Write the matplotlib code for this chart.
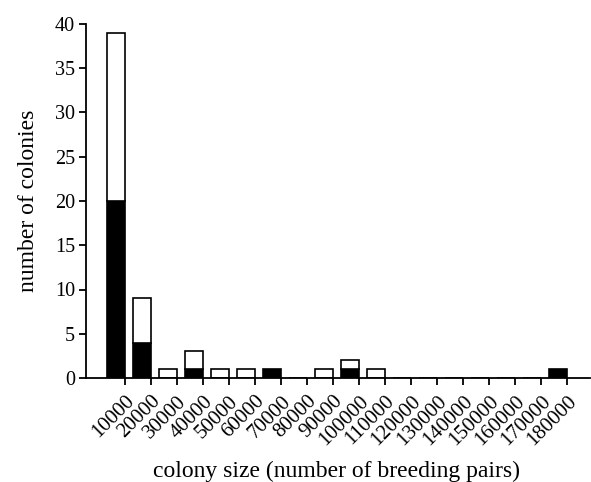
import numpy as np
import matplotlib
matplotlib.use("Agg")
import matplotlib.pyplot as plt

# colony size classes (upper bound of each bin)
size_classes = [10000, 20000, 30000, 40000, 50000, 60000, 70000, 80000, 90000,
                100000, 110000, 120000, 130000, 140000, 150000, 160000, 170000, 180000]
# black part of each bar
black_counts = [20, 4, 0, 1, 0, 0, 1, 0, 0, 1, 0, 0, 0, 0, 0, 0, 0, 1]
# white part stacked on top
white_counts = [19, 5, 1, 2, 1, 1, 0, 0, 1, 1, 1, 0, 0, 0, 0, 0, 0, 0]

plt.rcParams['font.family'] = ['Liberation Serif', 'DejaVu Serif']
plt.rcParams['font.size'] = 14.5

fig = plt.figure(figsize=(5.91, 4.82), dpi=100)
ax = fig.add_axes([86 / 591, 1 - 378 / 482, (590 - 86) / 591, (378 - 24) / 482])

pos = np.arange(1, len(size_classes) + 1)
black = np.array(black_counts)
white = np.array(white_counts)

# bars sit just left of their tick (tick marks the bin's upper edge)
bw = -0.69
ax.bar(pos, black, width=bw, align='edge', color='black', edgecolor='black', linewidth=1.2)
ax.bar(pos[white > 0], white[white > 0], width=bw, align='edge', bottom=black[white > 0],
       color='white', edgecolor='black', linewidth=1.2)

ax.set_xlim(-0.5, 18.885)
ax.set_ylim(0, 40)
ax.set_yticks(np.arange(0, 41, 5))
ax.set_xticks(pos)
ax.set_xticklabels([str(s) for s in size_classes], rotation=45, ha='right',
                   rotation_mode='anchor', fontsize=15)

for side in ['top', 'right']:
    ax.spines[side].set_visible(False)
for side in ['left', 'bottom']:
    ax.spines[side].set_linewidth(1.3)
ax.tick_params(direction='out', length=5, width=1.3, pad=3)
ax.tick_params(axis='x', pad=5)

ax.set_ylabel('number of colonies', fontsize=17, labelpad=11)
ax.set_xlabel('colony size (number of breeding pairs)', fontsize=17, va='top')
ax.xaxis.set_label_coords(0.498, -0.233)

fig.savefig('out.png', dpi=100)
